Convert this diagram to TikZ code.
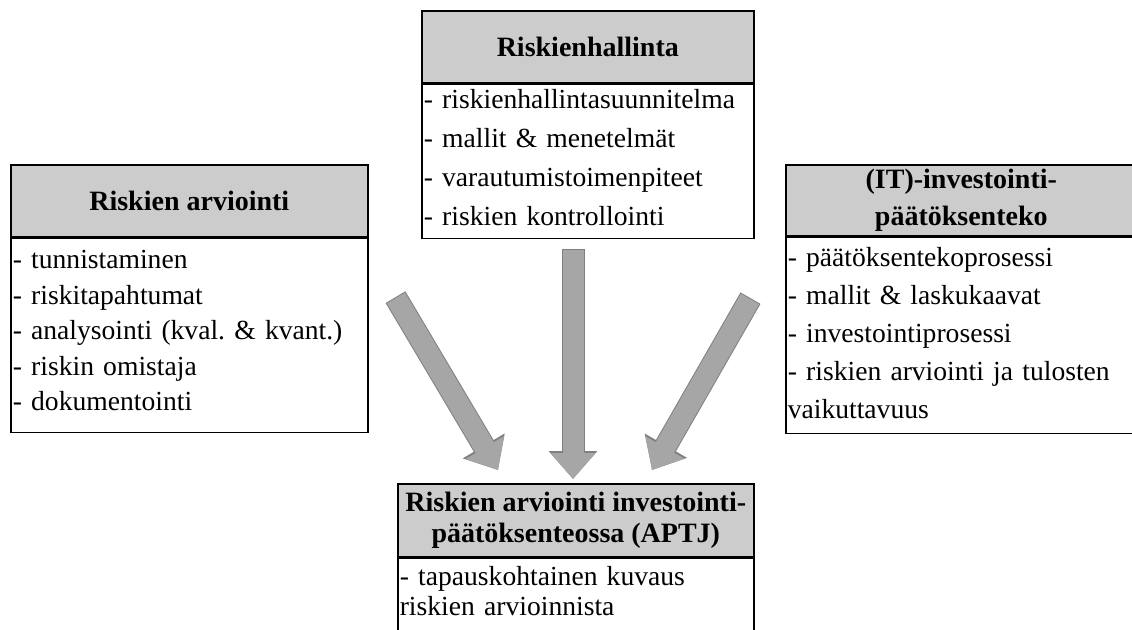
\documentclass[tikz,border=0pt]{standalone}
\usepackage{fontspec}
\setmainfont{Liberation Serif}
\usetikzlibrary{arrows.meta}
\frenchspacing
\newcommand{\rivit}[1]{\begin{tabular}[t]{@{}l@{}}#1\end{tabular}}
\begin{document}
\begin{tikzpicture}[x=0.5pt, y=-0.5pt,
    head/.style={draw, line width=0.8pt, fill=gray!40, align=center, inner sep=0pt, anchor=north west,
        font=\bfseries\fontsize{14}{17.5}\selectfont},
    body/.style={draw, line width=0.8pt, fill=white, inner xsep=1pt, inner ysep=0pt, anchor=north},
    bigarrow/.style={line width=10.5pt, draw=gray!70,
        -{Triangle[length=13pt,width=21.5pt]},
        preaction={draw=gray, line width=11.5pt, shorten <=-0.5pt,
            -{Triangle[length=14pt,width=23.5pt]}}}]
    \useasboundingbox (0,0) rectangle (1132,629);
    % Riskien arviointi
    \node[head, minimum width=178.5pt, minimum height=36pt] (rahead) at (10,164) {Riskien arviointi};
    \node[body, text width=176.5pt, text height=15pt, text depth=82pt,
        font=\fontsize{13.8}{17.8}\selectfont] (rabody) at (rahead.south)
        {\rivit{- tunnistaminen\\- riskitapahtumat\\- analysointi (kval. \& kvant.)\\- riskin omistaja\\- dokumentointi}};
    % Riskienhallinta
    \node[head, minimum width=166pt, minimum height=36pt] (rhhead) at (421,10) {Riskienhallinta};
    \node[body, text width=164pt, text height=12pt, text depth=65pt,
        font=\fontsize{13.8}{19.5}\selectfont] (rhbody) at (rhhead.south)
        {\rivit{- riskienhallintasuunnitelma\\- mallit \& menetelmät\\- varautumistoimenpiteet\\- riskien kontrollointi}};
    % (IT)-investointipaatoksenteko
    \node[head, minimum width=175.5pt, minimum height=35.5pt] (ithead) at (785,164) {(IT)-investointi-\\[1pt]päätöksenteko};
    \node[body, text width=173.5pt, text height=14.5pt, text depth=83.5pt,
        font=\fontsize{13.8}{19}\selectfont] (itbody) at (ithead.south)
        {\rivit{- päätöksentekoprosessi\\- mallit \& laskukaavat\\- investointiprosessi\\- riskien arviointi ja tulosten\\vaikuttavuus}};
    % APTJ
    \node[head, minimum width=178pt, minimum height=36.5pt,
        font=\bfseries\fontsize{14}{15.5}\selectfont] (aphead) at (397,483) {Riskien arviointi investointi-\\päätöksenteossa (APTJ)};
    \node[body, text width=176pt, text height=13.5pt, text depth=40pt,
        font=\fontsize{13.8}{15}\selectfont] (apbody) at (aphead.south)
        {\rivit{- tapauskohtainen kuvaus\\riskien arvioinnista}};
    % nuolet
    \coordinate (lt) at (396,298);
    \coordinate (lh) at (498,470);
    \coordinate (mt) at (573,250);
    \coordinate (mh) at (573,479);
    \coordinate (rt) at (750,299);
    \coordinate (rh) at (652,470);
    \draw[bigarrow] (lt) -- (lh);
    \draw[bigarrow] (mt) -- (mh);
    \draw[bigarrow] (rt) -- (rh);
\end{tikzpicture}
\end{document}
